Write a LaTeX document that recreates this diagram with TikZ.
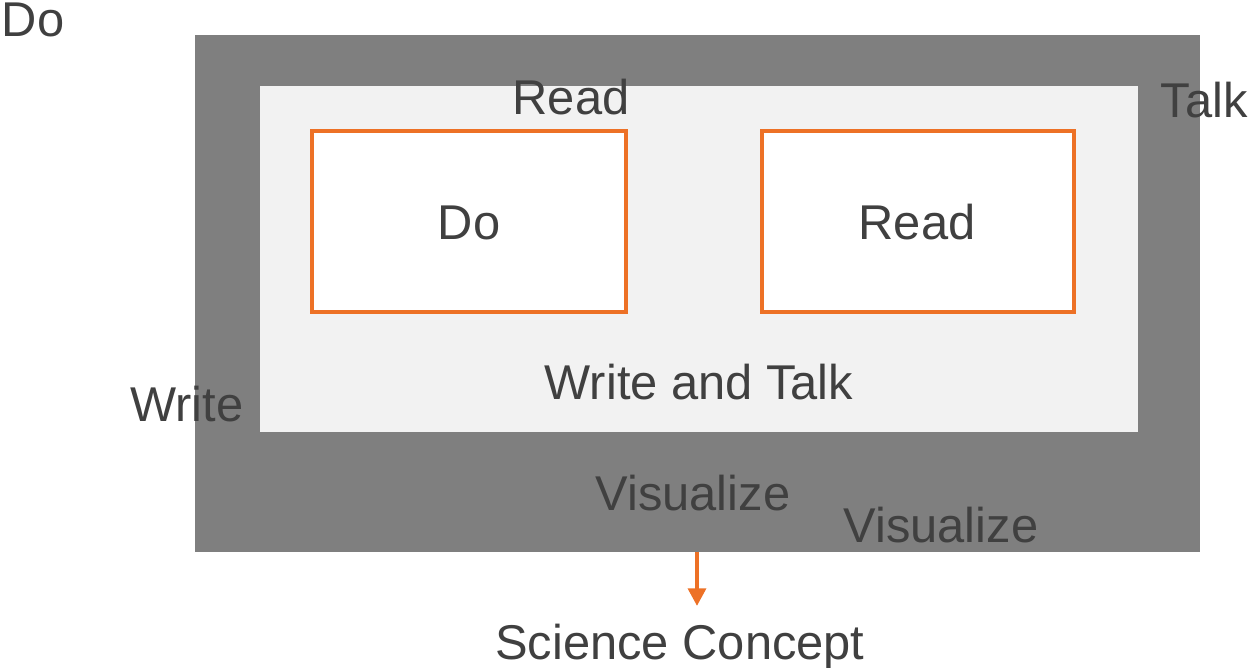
\documentclass[tikz,border=0pt]{standalone}
\usepackage{fontspec}
\setmainfont{Liberation Sans}
\usetikzlibrary{arrows.meta}
\definecolor{txtgray}{HTML}{404040}
\definecolor{outergray}{HTML}{7F7F7F}
\definecolor{innergray}{HTML}{F2F2F2}
\definecolor{orng}{HTML}{ED7126}

\begin{document}
\begin{tikzpicture}[x=0.02cm,y=-0.02cm,
  lbl/.style={anchor=base,inner sep=0pt,text=txtgray,font=\fontsize{27.8}{33}\selectfont},
  orangebox/.style={draw=orng,line width=2.6pt,fill=white}]
\useasboundingbox (0,0) rectangle (1249,668);
\coordinate (A) at (195,35);
\coordinate (B) at (1200,552);
\coordinate (C) at (260,86);
\coordinate (D) at (1138,432);
\coordinate (E) at (697,552);
\coordinate (F) at (697,606);

\fill [outergray] (A) rectangle (B);
\fill [innergray] (C) rectangle (D);
\draw [orangebox] (312,131) rectangle (626,312);
\draw [orangebox] (762,131) rectangle (1074,312);
\draw [orng, line width=2.4pt, -{Triangle[length=10pt,width=10pt]}] (E)--(F);

\node [lbl] (do1) at (33,37) {Do};
\node [lbl] (read1) at (571,115) {Read};
\node [lbl] (talk) at (1204,118) {Talk};
\node [lbl] (do2) at (469,240) {Do};
\node [lbl] (read2) at (917,240) {Read};
\node [lbl] (wat) at (699,400) {Write and Talk};
\node [lbl] (write) at (187,422) {Write};
\node [lbl] (vis1) at (693,511) {Visualize};
\node [lbl] (vis2) at (941,543) {Visualize};
\node [lbl] (sci) at (680,660) {Science Concept};
\end{tikzpicture}
\end{document}
